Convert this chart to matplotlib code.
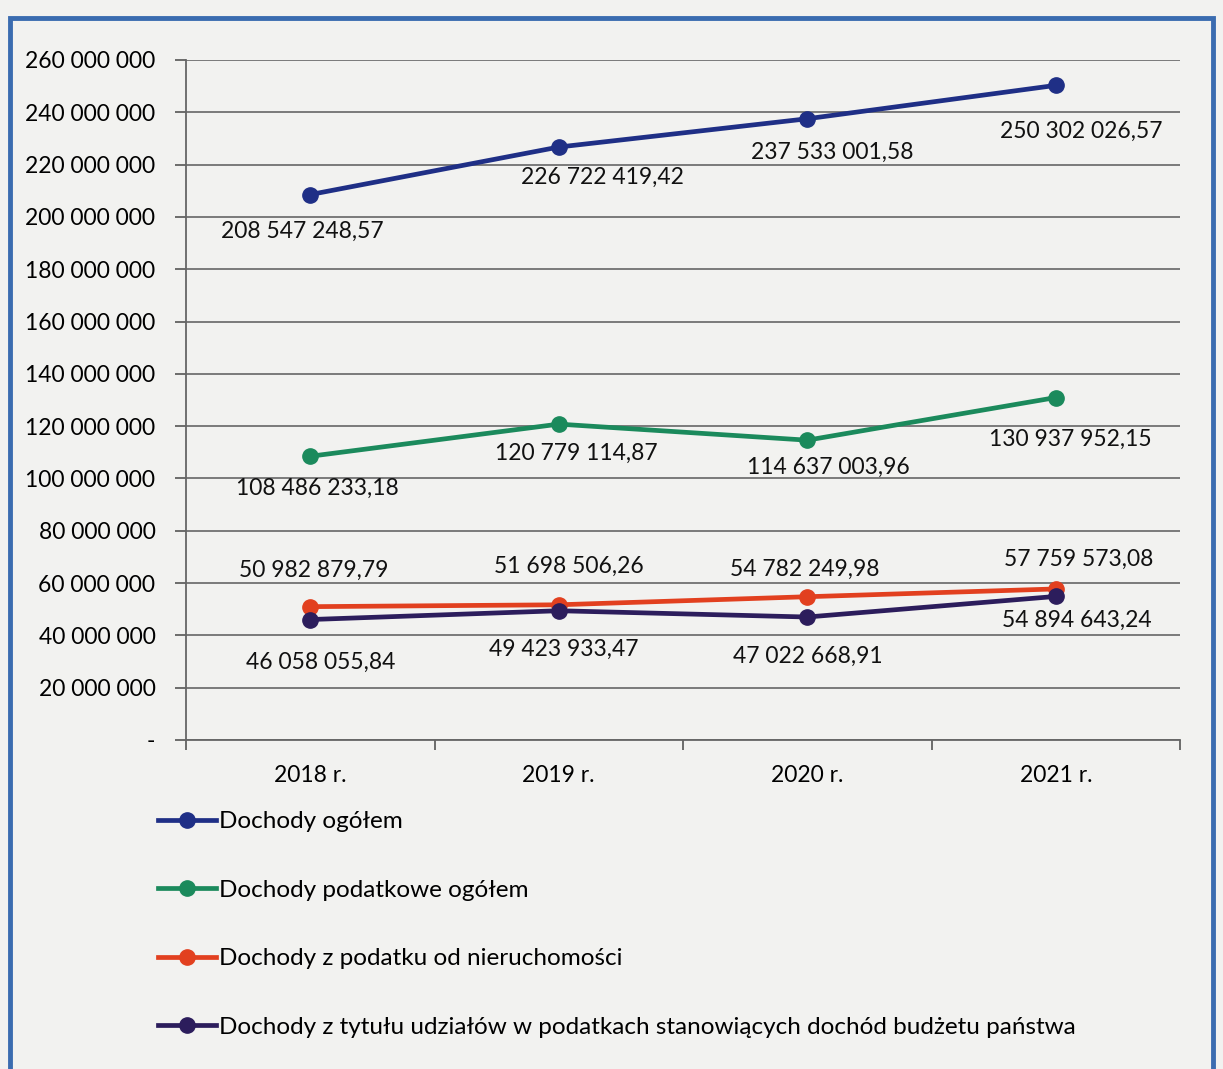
import matplotlib
matplotlib.use("Agg")
import matplotlib.pyplot as plt
from matplotlib.patches import Rectangle
from matplotlib.ticker import FuncFormatter

plt.rcParams["font.family"] = ["Lato", "DejaVu Sans"]

years = ["2018 r.", "2019 r.", "2020 r.", "2021 r."]
ogolem = [208547248.57, 226722419.42, 237533001.58, 250302026.57]
podatkowe = [108486233.18, 120779114.87, 114637003.96, 130937952.15]
nieruchomosci = [50982879.79, 51698506.26, 54782249.98, 57759573.08]
udzialy = [46058055.84, 49423933.47, 47022668.91, 54894643.24]

names = [
    "Dochody ogółem",
    "Dochody podatkowe ogółem",
    "Dochody z podatku od nieruchomości",
    "Dochody z tytułu udziałów w podatkach stanowiących dochód budżetu państwa",
]
colors = ["#1f2f86", "#1b8a5c", "#e2401f", "#2c1d5c"]

# label offsets in pixels (dx, dy) per point
offsets = [
    [(-8, -37), (44, -30), (25, -34), (26, -46)],
    [(7, -32), (18, -29), (21, -27), (15, -42)],
    [(3, 36), (10, 38), (-2, 27), (23, 30)],
    [(10, -43), (5, -39), (1, -39), (21, -24)],
]


def fmt_pl(v):
    s = f"{v:,.2f}"
    return s.replace(",", " ").replace(".", ",")


def fmt_tick(v, pos):
    if abs(v) < 1:
        return "-"
    return f"{v:,.0f}".replace(",", " ")


bg = "#f2f2f0"
fig = plt.figure(figsize=(12.23, 10.69), dpi=100, facecolor=bg)
ax = fig.add_axes([186 / 1223, 1 - 740 / 1069, (1180 - 186) / 1223, (740 - 60) / 1069])
ax.set_facecolor(bg)

x = list(range(len(years)))
series = [ogolem, podatkowe, nieruchomosci, udzialy]
lines = []
for vals, name, c, offs in zip(series, names, colors, offsets):
    (ln,) = ax.plot(x, vals, color=c, lw=3.4, marker="o", markersize=11, label=name, zorder=3)
    lines.append(ln)
    for xi, v, (dx, dy) in zip(x, vals, offs):
        ax.annotate(fmt_pl(v), (xi, v), xytext=(dx, dy), textcoords="offset pixels",
                    ha="center", va="center", fontsize=16.5, color="#111111")

ax.set_xlim(-0.5, 3.5)
ax.set_ylim(0, 260000000)
ax.set_yticks(range(0, 260000001, 20000000))
ax.yaxis.set_major_formatter(FuncFormatter(fmt_tick))
ax.set_xticks([-0.5, 0.5, 1.5, 2.5, 3.5])
ax.set_xticklabels([])
ax.set_xticks(x, minor=True)
ax.set_xticklabels(years, minor=True)
ax.tick_params(axis="x", which="major", length=7, color="#555555", width=1.2)
ax.tick_params(axis="x", which="minor", length=0, pad=18, labelsize=16.5)
ax.tick_params(axis="y", length=8, color="#555555", width=1.2, labelsize=16.5, pad=14)
ax.grid(axis="y", color="#666666", lw=1.2)
ax.set_axisbelow(True)
for side in ["top", "right"]:
    ax.spines[side].set_visible(False)
ax.spines["left"].set_color("#666666")
ax.spines["left"].set_linewidth(1.3)
ax.spines["bottom"].set_color("#666666")
ax.spines["bottom"].set_linewidth(1.3)

fig.legend(handles=lines, loc="upper left", bbox_to_anchor=(158 / 1223, 1 - 811 / 1069),
           frameon=False, fontsize=17.5, handlelength=2.4, handletextpad=0.12,
           labelspacing=1.96, borderpad=0, borderaxespad=0)

# blue frame of the scanned page
fig.patches.append(Rectangle((10 / 1223, -0.05), (1213 - 10) / 1223, 1.05 - 18 / 1069,
                             transform=fig.transFigure, fill=False, edgecolor="#3b6cb0",
                             lw=3.5, zorder=0))

fig.savefig("out.png", dpi=100, facecolor=bg)
